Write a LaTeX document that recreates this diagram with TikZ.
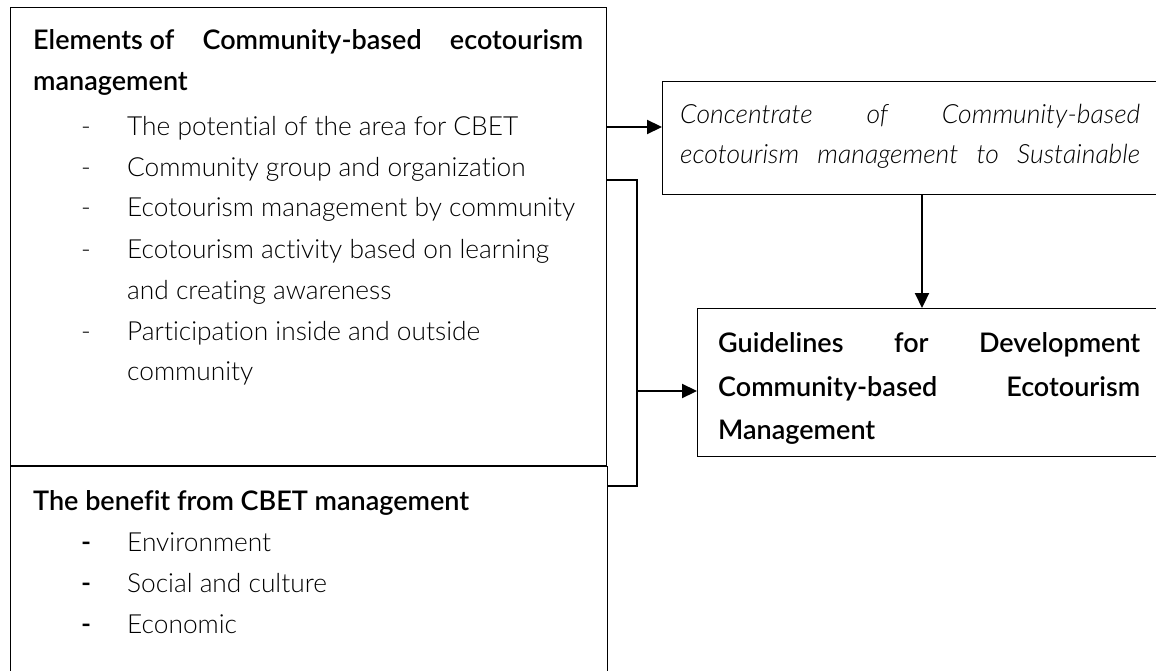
\documentclass[tikz,border=0pt]{standalone}
\usepackage{fontspec}
\setmainfont{Lato Light}[BoldFont={Lato Semibold},RawFeature=-liga]
\usetikzlibrary{arrows.meta}
\begin{document}
\begin{tikzpicture}[x=1pt,y=-1pt,
  box/.style={draw,line width=1.4pt,anchor=north west,inner sep=0pt},
  conn/.style={line width=2.2pt},
  arr/.style={conn,-{Triangle[length=15pt,width=14pt]}},
  txt/.style={anchor=base west,inner sep=0pt,font=\fontsize{26.3}{32}\selectfont},
  head/.style={txt,font=\fontsize{27}{32}\selectfont\bfseries},
  ital/.style={txt,font=\fontsize{26.5}{32}\selectfont\itshape},
  dashmark/.style={txt}]
\useasboundingbox (0,0) rectangle (1156,671);

% boxes
\node[box,minimum width=596pt,minimum height=458pt] (boxA) at (10,7) {};
\node[box,minimum width=597pt,minimum height=220pt] (boxB) at (10,466) {};
\node[box,minimum width=520pt,minimum height=113pt] (boxC) at (662,81) {};
\node[box,minimum width=480pt,minimum height=148pt] (boxD) at (697,308) {};

% elements box text
\node[head] (a0) at (33,50) {\hbox to 550pt{Elements of\hfill Community-based\hfill ecotourism}};
\node[head] (a1) at (33,91) {management};
\foreach \y/\t [count=\i] in {136/The potential of the area for CBET,
    177/Community group and organization,
    217/Ecotourism management by community,
    258/Ecotourism activity based on learning} {
  \node[dashmark] (ad\i) at (81,\y) {-};
  \node[txt] (ai\i) at (127,\y) {\t};
}
\node[txt] (ai5) at (127,299) {and creating awareness};
\node[dashmark] (ad6) at (81,340) {-};
\node[txt] (ai6) at (127,340) {Participation inside and outside};
\node[txt] (ai7) at (127,380) {community};

% benefit box text
\node[head] (b0) at (33,510) {The benefit from CBET management};
\foreach \y/\t [count=\i] in {551/Environment,592/Social and culture,633/Economic} {
  \node[head] (bd\i) at (81,\y) {-};
  \node[txt] (bi\i) at (127,\y) {\t};
}

% concentrate box text
\node[ital] (c0) at (680,124) {\hbox to 460pt{Concentrate\hfill of\hfill Community-based}};
\node[ital] (c1) at (680,164) {\hbox to 460pt{ecotourism management to Sustainable}};

% guidelines box text
\node[head] (d0) at (718,352) {\hbox to 422pt{Guidelines\hfill for\hfill Development}};
\node[head] (d1) at (718,396) {\hbox to 422pt{Community-based\hfill Ecotourism}};
\node[head] (d2) at (718,439) {Management};

% connectors
\coordinate (p1) at (0,127);
\coordinate (p2) at (0,180);
\coordinate (p3) at (637,486);
\coordinate (p4) at (637,391);
\coordinate (p5) at (922,0);
\draw[arr] (boxA.east |- p1) -- (boxC.west |- p1);
\draw[arr] (boxC.south -| p5) -- (boxD.north -| p5);
\draw[conn] (boxA.east |- p2) -| (p3) -- (boxB.east |- p3);
\draw[arr] (p4) -- (boxD.west |- p4);
\end{tikzpicture}
\end{document}
